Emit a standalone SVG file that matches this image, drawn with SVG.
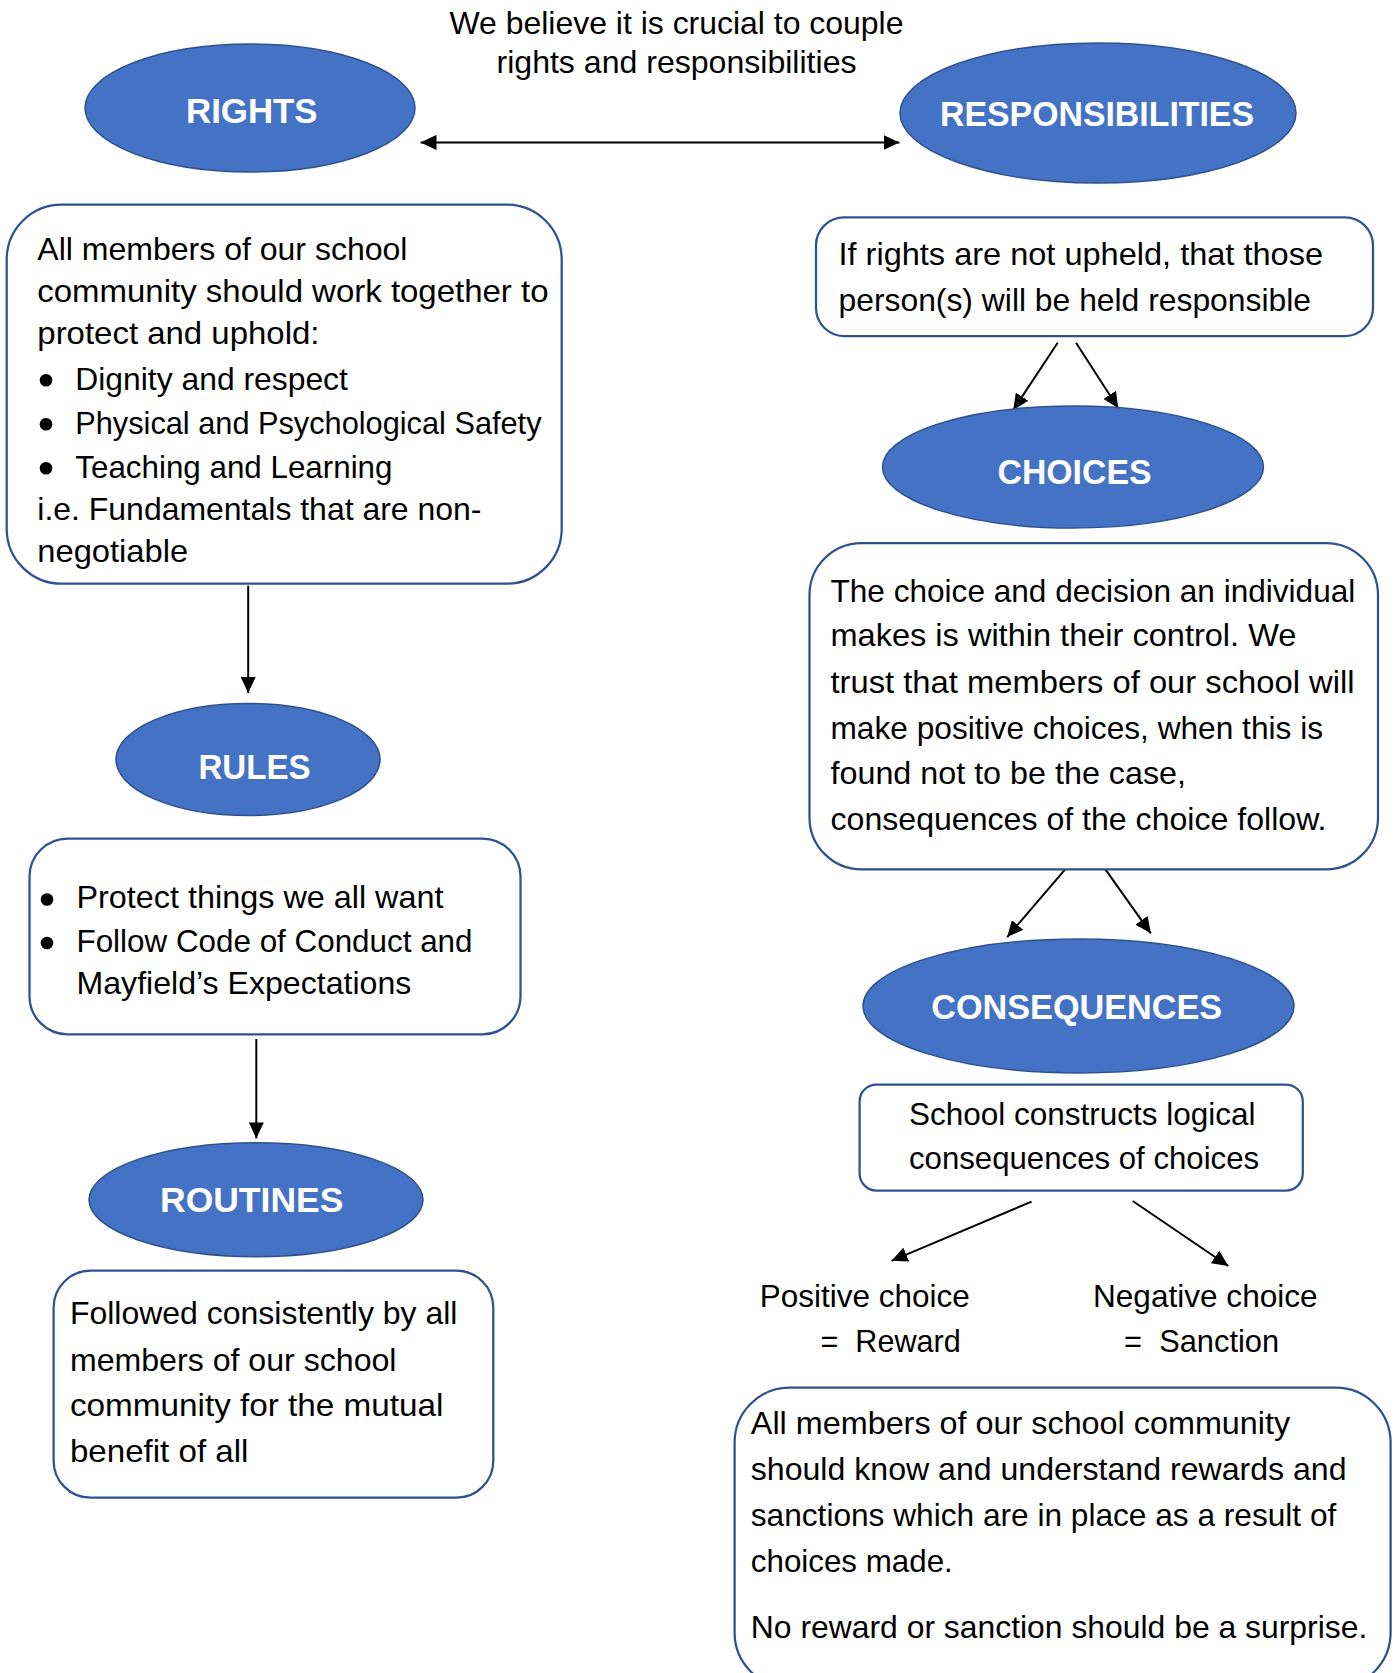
<svg xmlns="http://www.w3.org/2000/svg" width="1395" height="1673" viewBox="0 0 1395 1673">
<style>
.ell{fill:#4472C4;stroke:#2F528F;stroke-width:1.5}
.box{fill:#fff;stroke:#2F528F;stroke-width:2.25}
.t{font-family:"Liberation Sans",Arial,sans-serif;font-size:31.5px;fill:#000}
.h{font-family:"Liberation Sans",Arial,sans-serif;font-size:35px;font-weight:bold;fill:#fff}
.conn line{stroke:#000;stroke-width:2;fill:none}
.bul{fill:#000}
</style>
<defs>
<marker id="ah" markerUnits="userSpaceOnUse" markerWidth="16" markerHeight="15" refX="16" refY="7.5" orient="auto-start-reverse">
<path d="M0,0 L16,7.5 L0,15 z" fill="#000"/>
</marker>
</defs>
<rect width="1395" height="1673" fill="#fff"/>

<g id="intro">
<text class="t" x="449.5" y="34" textLength="454" lengthAdjust="spacingAndGlyphs">We believe it is crucial to couple</text>
<text class="t" x="496.5" y="73" textLength="360" lengthAdjust="spacingAndGlyphs">rights and responsibilities</text>
</g>

<g class="conn" id="connectors">
<line x1="420.5" y1="142.4" x2="899.5" y2="142.4" marker-start="url(#ah)" marker-end="url(#ah)"/>
<line x1="248.2" y1="585.7" x2="248.2" y2="693" marker-end="url(#ah)"/>
<line x1="256.3" y1="1039" x2="256.3" y2="1138.4" marker-end="url(#ah)"/>
<line x1="1057.7" y1="342.7" x2="1013.3" y2="410" marker-end="url(#ah)"/>
<line x1="1076" y1="342.7" x2="1118.3" y2="408.3" marker-end="url(#ah)"/>
<line x1="1066" y1="868.3" x2="1007.2" y2="937.1" marker-end="url(#ah)"/>
<line x1="1104.7" y1="868.3" x2="1150.8" y2="933.3" marker-end="url(#ah)"/>
<line x1="1031.6" y1="1201.6" x2="891.5" y2="1260.8" marker-end="url(#ah)"/>
<line x1="1132.7" y1="1201" x2="1228.3" y2="1266" marker-end="url(#ah)"/>
</g>

<g id="rights">
<ellipse class="ell" cx="250" cy="108" rx="165" ry="64"/>
<text class="h" x="186" y="123" textLength="131.5" lengthAdjust="spacingAndGlyphs">RIGHTS</text>
</g>

<g id="responsibilities">
<ellipse class="ell" cx="1098" cy="113" rx="198" ry="70"/>
<text class="h" x="940" y="125.5" textLength="314" lengthAdjust="spacingAndGlyphs">RESPONSIBILITIES</text>
</g>

<g id="rights-box">
<rect class="box" x="6.7" y="204.7" width="555" height="379" rx="55" ry="55"/>
<text class="t" x="37.3" y="260" textLength="370.2" lengthAdjust="spacingAndGlyphs">All members of our school</text>
<text class="t" x="37.3" y="302.3" textLength="511.2" lengthAdjust="spacingAndGlyphs">community should work together to</text>
<text class="t" x="37.3" y="344.4" textLength="282.2" lengthAdjust="spacingAndGlyphs">protect and uphold:</text>
<circle class="bul" cx="46" cy="380.3" r="6.3"/>
<text class="t" x="75.3" y="389.6" textLength="272.6" lengthAdjust="spacingAndGlyphs">Dignity and respect</text>
<circle class="bul" cx="46" cy="424.3" r="6.3"/>
<text class="t" x="75.3" y="433.6" textLength="466.2" lengthAdjust="spacingAndGlyphs">Physical and Psychological Safety</text>
<circle class="bul" cx="46" cy="468.3" r="6.3"/>
<text class="t" x="75.3" y="477.6" textLength="317.2" lengthAdjust="spacingAndGlyphs">Teaching and Learning</text>
<text class="t" x="37.3" y="519.7" textLength="444.2" lengthAdjust="spacingAndGlyphs">i.e. Fundamentals that are non-</text>
<text class="t" x="37.3" y="561.8" textLength="150.8" lengthAdjust="spacingAndGlyphs">negotiable</text>
</g>

<g id="rules">
<ellipse class="ell" cx="248" cy="759.5" rx="132" ry="56"/>
<text class="h" x="198.5" y="778.6" textLength="112" lengthAdjust="spacingAndGlyphs">RULES</text>
</g>

<g id="rules-box">
<rect class="box" x="29.5" y="838.6" width="491" height="195.7" rx="38" ry="38"/>
<circle class="bul" cx="47" cy="899.5" r="6.3"/>
<text class="t" x="76.5" y="908.2" textLength="367" lengthAdjust="spacingAndGlyphs">Protect things we all want</text>
<circle class="bul" cx="47" cy="943" r="6.3"/>
<text class="t" x="76.5" y="951.8" textLength="396" lengthAdjust="spacingAndGlyphs">Follow Code of Conduct and</text>
<text class="t" x="76.5" y="994" textLength="334.8" lengthAdjust="spacingAndGlyphs">Mayfield’s Expectations</text>
</g>

<g id="routines">
<ellipse class="ell" cx="256" cy="1199.7" rx="167" ry="57"/>
<text class="h" x="160" y="1212.2" textLength="183.4" lengthAdjust="spacingAndGlyphs">ROUTINES</text>
</g>

<g id="routines-box">
<rect class="box" x="53.6" y="1270.7" width="439.7" height="227" rx="37" ry="37"/>
<text class="t" x="69.9" y="1323.7" textLength="387.6" lengthAdjust="spacingAndGlyphs">Followed consistently by all</text>
<text class="t" x="69.9" y="1370.5" textLength="326.6" lengthAdjust="spacingAndGlyphs">members of our school</text>
<text class="t" x="69.9" y="1416.2" textLength="373.6" lengthAdjust="spacingAndGlyphs">community for the mutual</text>
<text class="t" x="69.9" y="1461.8" textLength="178.6" lengthAdjust="spacingAndGlyphs">benefit of all</text>
</g>

<g id="responsibilities-box">
<rect class="box" x="816" y="217.4" width="557" height="118.6" rx="28" ry="28"/>
<text class="t" x="838.5" y="264.8" textLength="484.5" lengthAdjust="spacingAndGlyphs">If rights are not upheld, that those</text>
<text class="t" x="838.5" y="310.8" textLength="472.5" lengthAdjust="spacingAndGlyphs">person(s) will be held responsible</text>
</g>

<g id="choices">
<ellipse class="ell" cx="1073" cy="467" rx="190.5" ry="61"/>
<text class="h" x="997.5" y="484" textLength="154" lengthAdjust="spacingAndGlyphs">CHOICES</text>
</g>

<g id="choices-box">
<rect class="box" x="809.5" y="543" width="568.5" height="326.4" rx="52" ry="52"/>
<text class="t" x="830.5" y="601.5" textLength="524.8" lengthAdjust="spacingAndGlyphs">The choice and decision an individual</text>
<text class="t" x="830.5" y="646.3" textLength="465.9" lengthAdjust="spacingAndGlyphs">makes is within their control. We</text>
<text class="t" x="830.5" y="693" textLength="524" lengthAdjust="spacingAndGlyphs">trust that members of our school will</text>
<text class="t" x="830.5" y="738.9" textLength="492.5" lengthAdjust="spacingAndGlyphs">make positive choices, when this is</text>
<text class="t" x="830.5" y="784" textLength="355.5" lengthAdjust="spacingAndGlyphs">found not to be the case,</text>
<text class="t" x="830.5" y="830" textLength="496" lengthAdjust="spacingAndGlyphs">consequences of the choice follow.</text>
</g>

<g id="consequences">
<ellipse class="ell" cx="1078.5" cy="1006" rx="215.5" ry="67"/>
<text class="h" x="931.2" y="1019.4" textLength="291" lengthAdjust="spacingAndGlyphs">CONSEQUENCES</text>
</g>

<g id="consequences-box">
<rect class="box" x="859.6" y="1084.5" width="443.2" height="106.1" rx="17" ry="17"/>
<text class="t" x="909" y="1124.9" textLength="346.5" lengthAdjust="spacingAndGlyphs">School constructs logical</text>
<text class="t" x="909" y="1169.4" textLength="350.1" lengthAdjust="spacingAndGlyphs">consequences of choices</text>
</g>

<g id="positive">
<text class="t" x="759.7" y="1306.5" textLength="210" lengthAdjust="spacingAndGlyphs">Positive choice</text>
<text class="t" x="820.4" y="1351.5" textLength="140.4" lengthAdjust="spacingAndGlyphs" xml:space="preserve">=  Reward</text>
</g>

<g id="negative">
<text class="t" x="1093" y="1306.5" textLength="224.6" lengthAdjust="spacingAndGlyphs">Negative choice</text>
<text class="t" x="1124" y="1351.5" textLength="155.1" lengthAdjust="spacingAndGlyphs" xml:space="preserve">=  Sanction</text>
</g>

<g id="summary-box">
<rect class="box" x="734.6" y="1387.6" width="656" height="300" rx="55" ry="55"/>
<text class="t" x="750.8" y="1434.4" textLength="539.4" lengthAdjust="spacingAndGlyphs">All members of our school community</text>
<text class="t" x="750.8" y="1480" textLength="595.7" lengthAdjust="spacingAndGlyphs">should know and understand rewards and</text>
<text class="t" x="750.8" y="1525.8" textLength="585.5" lengthAdjust="spacingAndGlyphs">sanctions which are in place as a result of</text>
<text class="t" x="750.8" y="1571.5" textLength="202" lengthAdjust="spacingAndGlyphs">choices made.</text>
<text class="t" x="750.8" y="1638.4" textLength="616.5" lengthAdjust="spacingAndGlyphs">No reward or sanction should be a surprise.</text>
</g>
</svg>
